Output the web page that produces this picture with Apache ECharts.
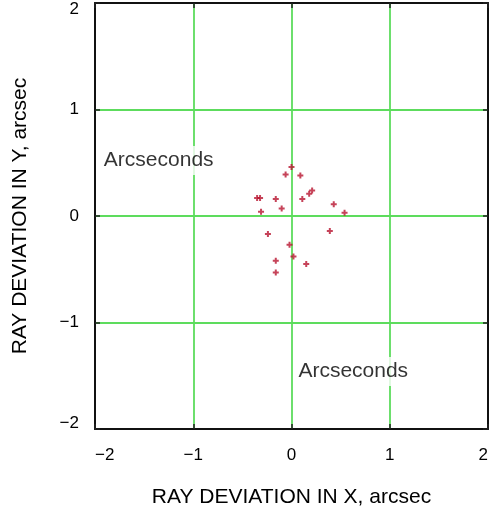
<!DOCTYPE html>
<html>
<head>
<meta charset="utf-8">
<script src="https://cdn.jsdelivr.net/npm/echarts@6/dist/echarts.min.js"></script>
<style>
  html, body { margin: 0; padding: 0; background: #fff; }
  #chart { width: 491px; height: 512px; }
</style>
</head>
<body>
<div id="chart"></div>
<script>
"use strict";

/*-----data-----*/
var rayX = [0.00, -0.06, 0.09, 0.21, 0.18, -0.35, -0.32, -0.16, 0.11, 0.43,
	-0.10, -0.31, 0.54, 0.39, -0.24, -0.02, 0.02, -0.16, 0.15, -0.16];
var rayY = [0.46, 0.39, 0.38, 0.24, 0.21, 0.17, 0.17, 0.16, 0.16, 0.11,
	0.07, 0.04, 0.03, -0.14, -0.17, -0.27, -0.38, -0.42, -0.45, -0.53];
var noteX = [-1.91, 0.07];
var noteY = [0.52, -1.46];
var noteText = ['Arcseconds', 'Arcseconds'];
var axisTicks = [-2, -1, 0, 1, 2];

var points = rayX.map(function (x, i) { return [x, rayY[i]]; });
var notes = noteX.map(function (x, i) { return { value: [x, noteY[i]], name: noteText[i] }; });

var font = 'Liberation Sans, Arial, sans-serif';
function tickText(v) {
	return axisTicks.indexOf(v) >= 0 ? String(v).replace('-', '\u2212') : '';
}
var plus = 'path://M2,0L4,0L4,2L6,2L6,4L4,4L4,6L2,6L2,4L0,4L0,2L2,2Z';

function axis(pos, labelled, name) {
	var vertical = (pos === 'left' || pos === 'right');
	var a = {
		type: 'value',
		position: pos,
		min: -2,
		max: 2,
		interval: 1,
		name: name,
		nameLocation: 'middle',
		nameGap: vertical ? 64 : 58,
		nameTextStyle: { fontFamily: font, fontSize: 21, color: '#000' },
		axisLine: { show: true, onZero: false, lineStyle: { color: '#111', width: 2 } },
		axisTick: { show: true, inside: true, length: 5, lineStyle: { color: '#222', width: 1.5 } },
		axisLabel: {
			show: labelled,
			margin: vertical ? 16 : 18,
			fontFamily: font,
			fontSize: 17,
			color: '#000',
			formatter: tickText
		},
		splitLine: {
			show: labelled,
			lineStyle: { color: '#5ddc5d', width: 1.8 }
		}
	};
	if (vertical) {
		a.axisLabel.lineHeight = 12;
		a.axisLabel.verticalAlignMinLabel = 'bottom';
		a.axisLabel.verticalAlignMaxLabel = 'top';
	} else {
		a.axisLabel.alignMinLabel = 'left';
		a.axisLabel.alignMaxLabel = 'right';
	}
	return a;
}

var chart = echarts.init(document.getElementById('chart'));
var option = {
	backgroundColor: '#fff',
	animation: false,
	grid: { left: 95, right: 3, top: 3, bottom: 83, outerBoundsMode: 'none' },
	xAxis: [
		axis('bottom', true, 'RAY DEVIATION IN X, arcsec'),
		axis('top', false, '')
	],
	yAxis: [
		axis('left', true, 'RAY DEVIATION IN Y, arcsec'),
		axis('right', false, '')
	],
	series: [{
		type: 'scatter',
		data: points,
		symbol: plus,
		symbolSize: 6,
		itemStyle: { color: '#b8142f' },
		z: 5
	}, {
		type: 'scatter',
		data: notes,
		symbolSize: 0,
		z: 6,
		label: {
			show: true,
			position: 'right',
			distance: 0,
			formatter: '{b}',
			fontFamily: font,
			fontSize: 21,
			color: '#000',
			backgroundColor: '#fff',
			padding: [4, 3, 4, 0]
		}
	}]
};
chart.setOption(option);
window.addEventListener('resize', function () {
	chart.resize();
});
</script>
</body>
</html>
